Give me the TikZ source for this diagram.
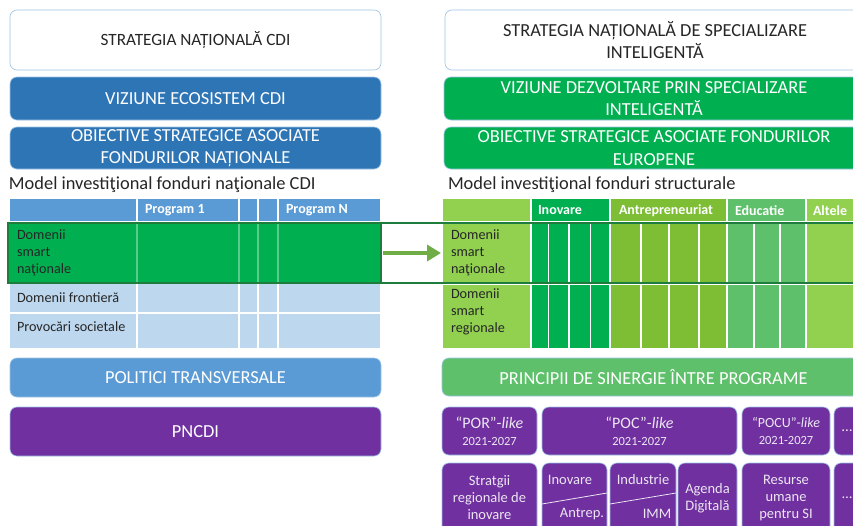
\documentclass[tikz,border=0pt]{standalone}
\usepackage{fontspec}
\setmainfont{Carlito}
\usepackage{tikz}
\usetikzlibrary{calc}
\usetikzlibrary{arrows.meta}
\usetikzlibrary{positioning}
\definecolor{sapphire}{RGB}{46, 117, 182}
\definecolor{skyblue}{RGB}{91, 155, 213}
\definecolor{paleblue}{RGB}{189, 215, 238}
\definecolor{edgeblue}{RGB}{157, 195, 230}
\definecolor{emerald}{RGB}{0, 176, 80}
\definecolor{lime}{RGB}{146, 208, 80}
\definecolor{grass}{RGB}{125, 190, 52}
\definecolor{mint}{RGB}{94, 192, 106}
\definecolor{forest}{RGB}{30, 125, 60}
\definecolor{moss}{RGB}{112, 173, 71}
\definecolor{amethyst}{RGB}{112, 48, 160}
\definecolor{lavender}{RGB}{236, 230, 242}
\definecolor{ink}{RGB}{38, 38, 38}

\begin{document}
\begin{tikzpicture}[x=1pt, y=-1pt,
        every node/.style={inner sep=0pt, outer sep=0pt},
        panel/.style={anchor=north west, rounded corners=7pt, draw=edgeblue, line width=0.6pt,
                      align=center, text=white, font=\fontsize{18.4}{22.5}\selectfont},
        cell/.style={anchor=north west, align=left, text=ink, font=\fontsize{14.2}{17}\selectfont},
        head/.style={anchor=west, text=white, font=\bfseries\fontsize{14}{16}\selectfont},
        slot/.style={anchor=north west, rounded corners=7pt, fill=amethyst, draw=edgeblue, line width=0.6pt,
                     align=center, text=lavender, font=\fontsize{14.5}{17}\selectfont},
        sep/.style={white, line width=1.3pt}]
            % Frame to ensure alignment:
            \useasboundingbox                                          (  0,   0) rectangle (853, 525);
            \clip                                                      (  0,   0) rectangle (853, 525);

            % National strategy, left column:
            \node[panel, fill=white, text=ink, minimum width=371pt, minimum height=60pt, font=\fontsize{17.2}{22}\selectfont]
                                                                                          (stratCDI) at ( 10,  10) {STRATEGIA NAȚIONALĂ CDI};
            \node[panel, fill=sapphire, minimum width=371pt, minimum height=43pt]         (vizCDI)   at ( 10,  77) {VIZIUNE ECOSISTEM CDI};
            \node[panel, fill=sapphire, minimum width=371pt, minimum height=42pt]         (obiCDI)   at ( 10, 127) {OBIECTIVE STRATEGICE ASOCIATE\\FONDURILOR NAȚIONALE};
            \node[anchor=west, text=ink, font=\fontsize{18.4}{20}\selectfont]             (modCDI)   at (  9, 185) {Model investiţional fonduri naţionale CDI};

            % Smart specialisation, right column:
            \node[panel, fill=white, text=ink, minimum width=420pt, minimum height=60pt]  (stratSI)  at (445,  10) {STRATEGIA NAȚIONALĂ DE SPECIALIZARE\\INTELIGENTĂ};
            \node[panel, fill=emerald, minimum width=420pt, minimum height=43pt]          (vizSI)    at (444,  77) {VIZIUNE DEZVOLTARE PRIN SPECIALIZARE\\INTELIGENTĂ};
            \node[panel, fill=emerald, minimum width=420pt, minimum height=42pt]          (obiSI)    at (444, 127) {OBIECTIVE STRATEGICE ASOCIATE FONDURILOR\\EUROPENE};
            \node[anchor=west, text=ink, font=\fontsize{18.4}{20}\selectfont]             (modSI)    at (448, 185) {Model investiţional fonduri structurale};

            % Table of national funds:
            \fill[skyblue]                                             ( 10, 199) rectangle (380, 222);
            \fill[paleblue]                                            ( 10, 222) rectangle (380, 348);
            \foreach \xc in {137, 239, 258, 278}
                \draw[sep]                                             (\xc, 199) -- (\xc, 348);
            \foreach \yc in {222, 283, 313}
                \draw[sep]                                             ( 10, \yc) -- (380, \yc);
            \node[head]                                                (prog1)    at (145, 210.5) {Program 1};
            \node[head]                                                (progN)    at (286, 210.5) {Program N};
            \node[cell, anchor=west]                                   (frontL)   at ( 17, 298) {Domenii frontieră};
            \node[cell, anchor=west]                                   (socL)     at ( 17, 327) {Provocări societale};

            % Table of structural funds:
            \foreach \xa/\xb/\col in {443/531/lime, 531/610/emerald, 610/727/grass, 727/806/mint, 806/880/lime}
                \fill[\col]                                            (\xa, 199) rectangle (\xb, 348);
            \foreach \xc in {531, 610, 727, 806}
                \draw[sep]                                             (\xc, 199) -- (\xc, 348);
            \foreach \xc in {548.5, 569, 590.5, 641, 669, 699, 754, 780}
                \draw[sep]                                             (\xc, 222) -- (\xc, 348);
            \foreach \yc in {222, 284}
                \draw[sep]                                             (443, \yc) -- (880, \yc);
            \node[head]                                                (inovH)    at (538, 210.5) {Inovare};
            \node[head]                                                (antrH)    at (619, 210.5) {Antrepreneuriat};
            \node[head]                                                (educH)    at (735, 210.5) {Educatie};
            \node[head]                                                (altH)     at (813, 210.5) {Altele};
            \node[cell, text width=72pt, inner xsep=8pt, minimum height=62pt] (smartR) at (443, 222) {Domenii\\smart\\naţionale};
            \node[cell, text width=72pt, inner xsep=8pt, minimum height=56pt] (regR)   at (443, 284) {Domenii\\smart\\regionale};

            % Smart domains carried across:
            \node[cell, fill=emerald, draw=forest, line width=1.3pt, text width=355pt, inner xsep=9pt, minimum height=60pt]
                                                                       (smartL)   at (  8, 223) {Domenii\\smart\\naţionale};
            \foreach \xc in {137, 239, 258, 278}
                \draw[sep, opacity=0.35]                               (\xc, 224) -- (\xc, 282);
            \draw[forest, line width=1.3pt]                            (smartL.north west) rectangle (880, 283);
            \draw[moss, line width=4pt, -{Triangle[length=14pt, width=16pt]}, shorten <=2pt, shorten >=2pt]
                                                                       (smartL) -- (smartR);

            % Transversal policies and programmes:
            \node[panel, fill=skyblue, minimum width=371pt, minimum height=39pt]          (polCDI)   at ( 10, 358) {POLITICI TRANSVERSALE};
            \node[panel, fill=mint, minimum width=423pt, minimum height=38pt]             (sinSI)    at (442, 358) {PRINCIPII DE SINERGIE ÎNTRE PROGRAME};
            \node[panel, fill=amethyst, minimum width=371pt, minimum height=49pt]         (pncdi)    at ( 10, 407) {PNCDI};

            \node[slot, minimum width=95pt, minimum height=48pt, font=\fontsize{16}{17}\selectfont]  (por)  at (442, 407) {“POR”-\textit{like}\\{\fontsize{12.5}{15}\selectfont 2021-2027}};
            \node[slot, minimum width=195pt, minimum height=48pt, font=\fontsize{16}{17}\selectfont] (poc)  at (542, 407) {“POC”-\textit{like}\\{\fontsize{12.5}{15}\selectfont 2021-2027}};
            \node[slot, minimum width=88pt, minimum height=48pt, font=\fontsize{14}{17}\selectfont]  (pocu) at (742, 407) {“POCU”-\textit{like}\\{\fontsize{12.5}{15}\selectfont 2021-2027}};
            \node[slot, minimum width=26pt, minimum height=48pt, font=\fontsize{15}{17}\selectfont]  (more) at (834, 407) {…};

            \node[slot, minimum width=95pt, minimum height=70pt]       (regInov)  at (442, 463) {Stratgii\\regionale de\\inovare};
            \node[slot, minimum width=65pt, minimum height=70pt]       (inovB)    at (542, 463) {};
            \node[slot, minimum width=66pt, minimum height=70pt]       (indB)     at (610, 463) {};
            \node[slot, minimum width=59pt, minimum height=70pt]       (agenda)   at (678, 463) {Agenda\\Digitală};
            \node[slot, minimum width=88pt, minimum height=70pt]       (resurse)  at (742, 463) {Resurse\\umane\\pentru SI};
            \node[slot, minimum width=26pt, minimum height=70pt]       (moreB)    at (834, 463) {…};

            \draw[lavender, line width=0.8pt]                          ([yshift=-6pt]inovB.west) -- ([yshift=5pt]inovB.east);
            \draw[lavender, line width=0.8pt]                          ([yshift=-6pt]indB.west)  -- ([yshift=5pt]indB.east);
            \node[text=lavender, font=\fontsize{14.5}{17}\selectfont]  (inovT)    at (570, 480) {Inovare};
            \node[text=lavender, font=\fontsize{14.5}{17}\selectfont]  (antrT)    at (582, 514) {Antrep.};
            \node[text=lavender, font=\fontsize{14.5}{17}\selectfont]  (indT)     at (643, 480) {Industrie};
            \node[text=lavender, font=\fontsize{14.5}{17}\selectfont]  (immT)     at (657, 514) {IMM};
        \end{tikzpicture}
\end{document}
